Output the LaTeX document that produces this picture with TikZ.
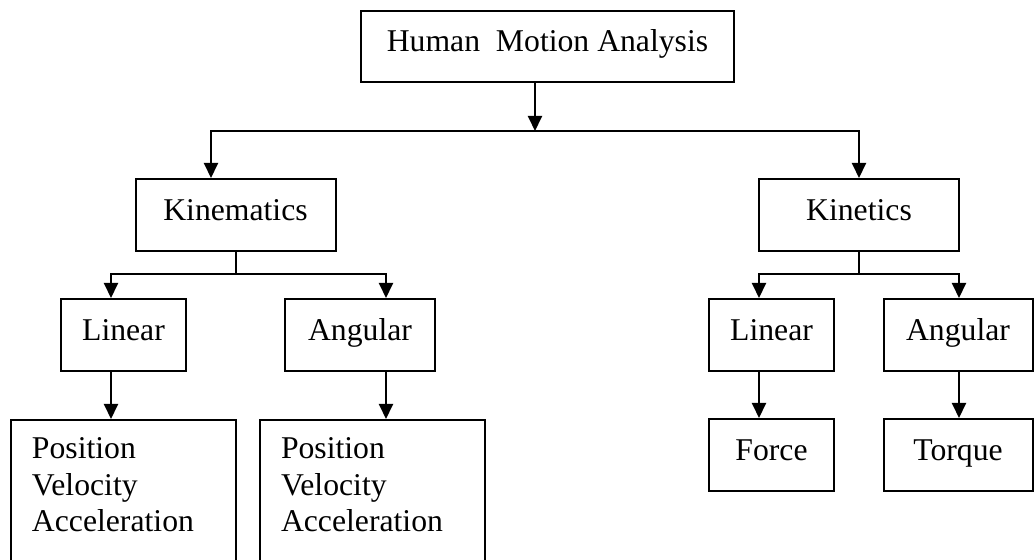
\documentclass[tikz,border=0pt]{standalone}
\usepackage{fontspec}
\setmainfont{Liberation Serif}
\usetikzlibrary{arrows.meta}
\begin{document}
\begin{tikzpicture}[x=.5pt,y=-.5pt,
  box/.style={draw,line width=1pt,minimum height=36pt,inner sep=0pt,
    text height=11pt,text depth=5.5pt,font=\fontsize{15.85}{18.25}\selectfont},
  listbox/.style={draw,line width=1pt,anchor=north,align=left,text width=91.5pt,
    inner xsep=10.5pt,inner ysep=9pt,font=\fontsize{15.85}{18.25}\selectfont},
  arr/.style={line width=1pt,-{Triangle[width=7pt,length=7.5pt]}}]
\useasboundingbox (0,0) rectangle (1034,560);
\clip (0,0) rectangle (1034,560);
\node[box,minimum width=186.5pt,minimum height=35.5pt] (hma) at (547.5,46.5) {Human\ \ Motion Analysis};
\node[box,minimum width=100pt] (kinem) at (235.5,215) {Kinematics};
\node[box,minimum width=100pt] (kinet) at (859,215) {Kinetics};
\node[box,minimum width=62.5pt] (klin) at (123.5,335) {Linear};
\node[box,minimum width=75pt] (kang) at (360,335) {Angular};
\node[box,minimum width=62.5pt] (tlin) at (771.5,335) {Linear};
\node[box,minimum width=74.5pt] (tang) at (958,335) {Angular};
\node[listbox] (kpos) at (123.5,419) {Position\\Velocity\\Acceleration\\[12pt]~};
\node[listbox] (apos) at (372.5,419) {Position\\Velocity\\Acceleration\\[12pt]~};
\node[box,minimum width=62.5pt] (force) at (771.5,455) {Force};
\node[box,minimum width=74.5pt] (torque) at (958,455) {Torque};
% junctions
\coordinate (top) at (535,131);
\coordinate (jl) at (211,131);
\coordinate (jr) at (859,131);
\coordinate (kl) at (111,274);
\coordinate (ka) at (386,274);
\coordinate (tl) at (759,274);
\coordinate (ta) at (959,274);
\draw[arr] (hma.south -| top) -- (top);
\draw[arr] (jr) -- (jl) -- (jl |- kinem.north);
\draw[arr] (jl) -- (jr) -- (kinet.north);
\draw[arr] (kinem.south) |- (kl) -- (kl |- klin.north);
\draw[arr] (kinem.south) |- (ka) -- (ka |- kang.north);
\draw[arr] (kinet.south) |- (tl) -- (tl |- tlin.north);
\draw[arr] (kinet.south) |- (ta) -- (ta |- tang.north);
\draw[arr] (kl |- klin.south) -- (kl |- kpos.north);
\draw[arr] (ka |- kang.south) -- (ka |- apos.north);
\draw[arr] (tl |- tlin.south) -- (tl |- force.north);
\draw[arr] (ta |- tang.south) -- (ta |- torque.north);
\end{tikzpicture}
\end{document}
